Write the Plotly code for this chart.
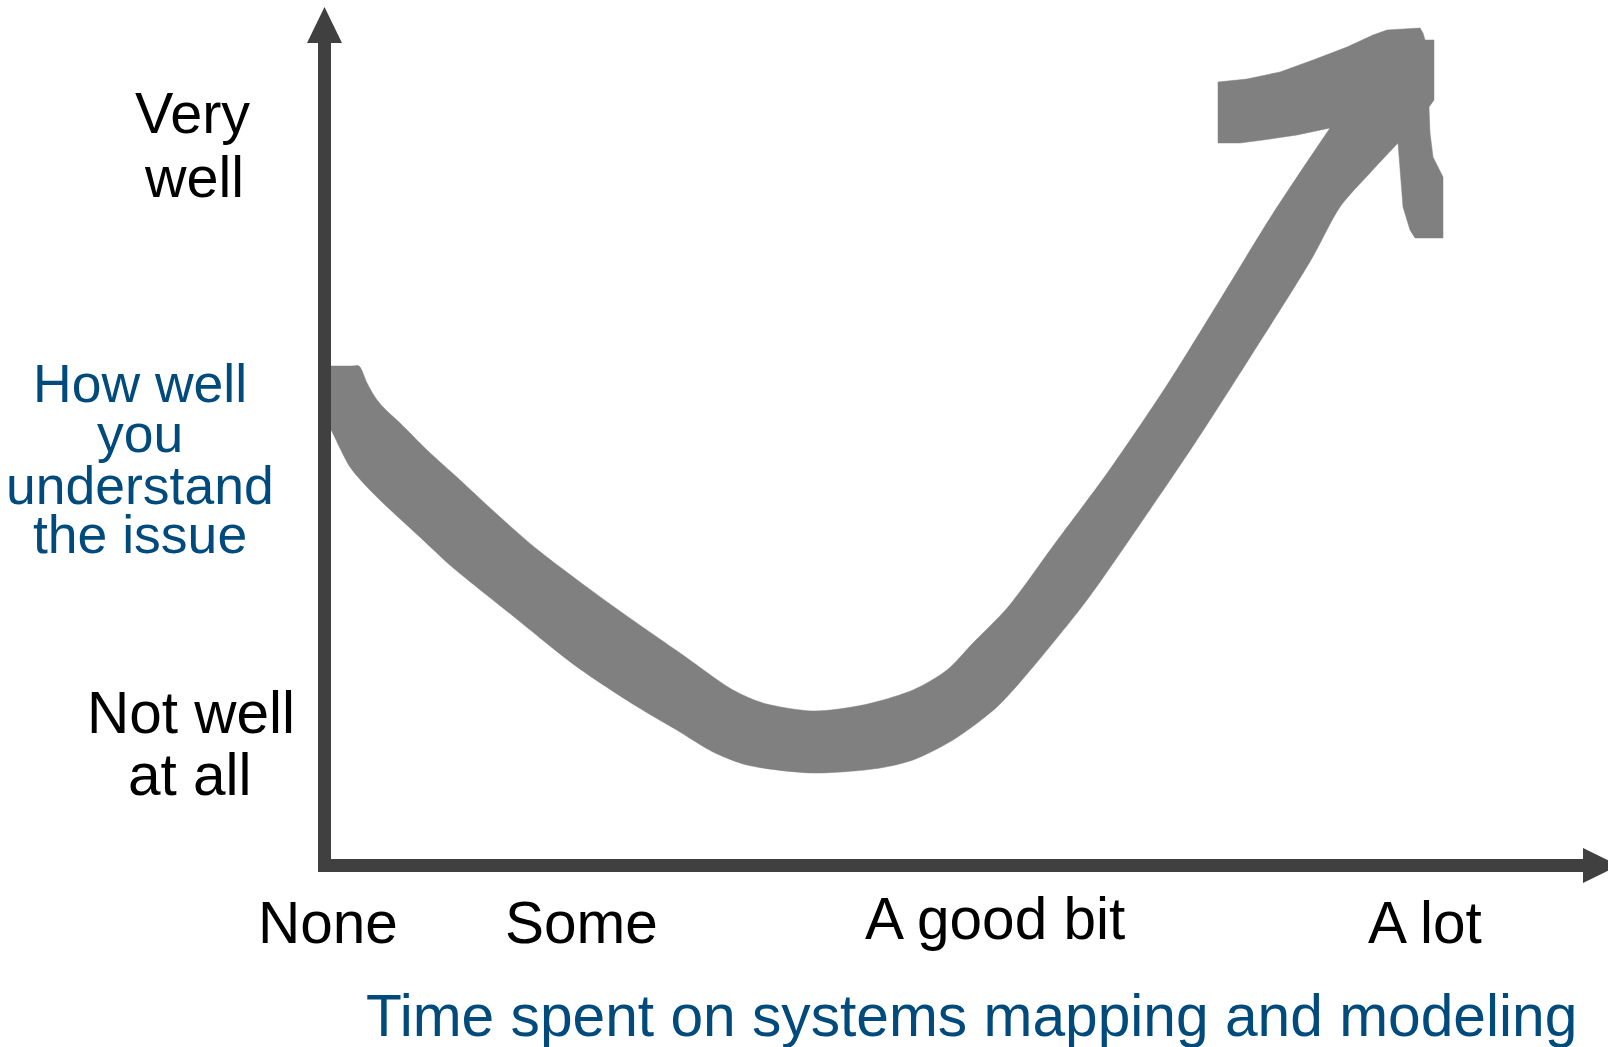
import plotly.graph_objects as go

# Canvas in pixel-like units (x to the right, y downward)
W, H = 1608, 1047

# Body of the thick curved band: upper edge (left to right)
band_top_x = [324, 331, 352, 359, 367, 375, 383, 400, 427, 460, 500, 538, 610, 680, 733,
              763, 813, 863, 913, 947, 973, 1008, 1056, 1108, 1167, 1218, 1272, 1330, 1350]
band_top_y = [366, 366, 366, 366, 383, 397, 407, 423, 450, 480, 517, 550, 604, 653, 690,
              703, 711, 705, 690, 670, 643, 607, 542, 472, 385, 303, 215, 128, 99]

# Lower edge of the band (right to left)
band_bot_x = [1415, 1398, 1370, 1340, 1311, 1249, 1195, 1136, 1087, 1033, 997, 953, 913,
              880, 813, 747, 713, 680, 636, 577, 513, 451, 423, 383, 367, 350, 330, 324]
band_bot_y = [125, 143, 173, 207, 260, 359, 443, 530, 600, 667, 707, 740, 760,
              768, 773, 765, 752, 732, 706, 667, 616, 566, 540, 503, 487, 467, 428, 419]

# Arrow head at the end of the band
head_x = [1330, 1297, 1263, 1240, 1218, 1218, 1247, 1280, 1313, 1347, 1373, 1387, 1420,
          1423, 1425, 1434, 1434, 1429, 1430, 1433, 1443, 1443, 1415, 1410, 1403, 1401, 1398]
head_y = [128, 135, 140, 143, 143, 82, 79, 72, 60, 47, 35, 30, 28,
          33, 40, 40, 100, 107, 133, 157, 177, 238, 238, 230, 207, 180, 143]

# Axis labels
x_labels = ["None", "Some", "A good bit", "A lot"]
x_label_pos = [328, 581, 995, 1425]
x_label_base = [943, 943, 939, 943]

y_top_label = ["Very", "well"]
y_top_pos = [(192, 133), (194, 197)]
y_bottom_label = ["Not well", "at all"]
y_bottom_pos = [(191, 733), (190, 795)]
y_title = ["How well", "you", "understand", "the issue"]
y_title_base = [402, 452, 504, 553]
x_title = "Time spent on systems mapping and modeling"

BAND = "#808080"
AXIS = "#404040"
BLUE = "#004A7C"
FONT = "Liberation Sans, Arial, sans-serif"

fig = go.Figure()

body_x = band_top_x + band_bot_x
body_y = band_top_y + band_bot_y
fig.add_trace(go.Scatter(
    x=body_x + [body_x[0]], y=body_y + [body_y[0]],
    mode="lines", fill="toself", fillcolor=BAND,
    line=dict(width=0.5, color=BAND, shape="spline", smoothing=0.8),
    hoverinfo="skip", showlegend=False,
))
fig.add_trace(go.Scatter(
    x=head_x + [head_x[0]], y=head_y + [head_y[0]],
    mode="lines", fill="toself", fillcolor=BAND,
    line=dict(width=0.5, color=BAND),
    hoverinfo="skip", showlegend=False,
))

# Axes drawn as thick bars with triangular heads, on top of the band
shapes = [
    dict(type="rect", x0=318, x1=331, y0=43, y1=872, fillcolor=AXIS, line_width=0, layer="above"),
    dict(type="rect", x0=318, x1=1584, y0=859, y1=872, fillcolor=AXIS, line_width=0, layer="above"),
    dict(type="path", path="M 307 43 L 342 43 L 324.5 7 Z", fillcolor=AXIS, line_width=0, layer="above"),
    dict(type="path", path="M 1583 848 L 1583 883 L 1619 865.5 Z", fillcolor=AXIS, line_width=0, layer="above"),
]

annotations = []


def label(text, x, base, size, color):
    # centre of the text box sits ~0.3465 em above the baseline
    annotations.append(dict(
        x=x, y=base - 0.3465 * size, xref="x", yref="y", text=text,
        showarrow=False, xanchor="center", yanchor="middle",
        font=dict(family=FONT, size=size, color=color),
    ))


for t, (x, b) in zip(y_top_label, y_top_pos):
    label(t, x, b, 57.5, "#000000")
for t, (x, b) in zip(y_bottom_label, y_bottom_pos):
    label(t, x, b, 58.5, "#000000")
for t, b in zip(y_title, y_title_base):
    label(t, 140, b, 53.5, BLUE)
for t, x, b in zip(x_labels, x_label_pos, x_label_base):
    label(t, x, b, 58.5, "#000000")
label(x_title, 971, 1036, 58.7, BLUE)

fig.update_layout(
    width=W, height=H,
    margin=dict(l=0, r=0, t=0, b=0),
    paper_bgcolor="white", plot_bgcolor="white",
    xaxis=dict(range=[0, W], visible=False, fixedrange=True),
    yaxis=dict(range=[H, 0], visible=False, fixedrange=True),
    shapes=shapes, annotations=annotations,
    showlegend=False,
)

fig.write_html("out.html")
